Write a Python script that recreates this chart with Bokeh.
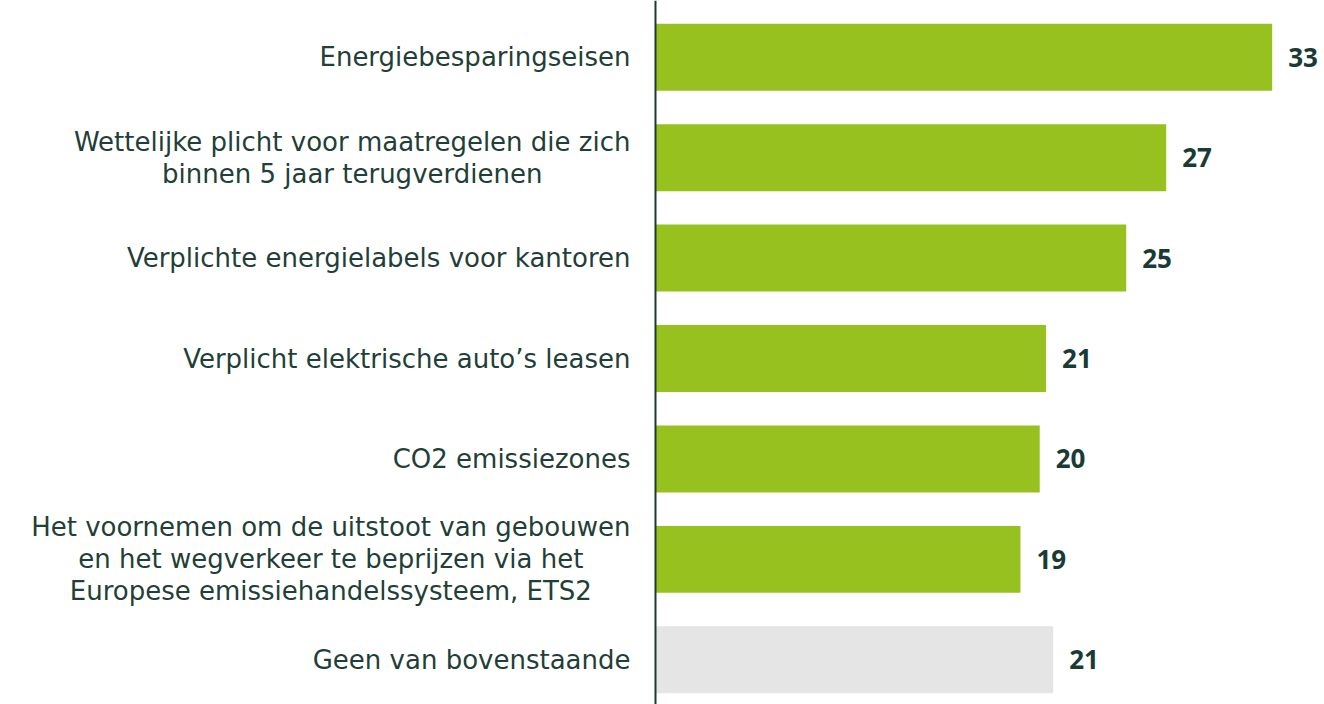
from bokeh.plotting import figure
from bokeh.models import ColumnDataSource, Range1d, Span
from bokeh.embed import file_html
from bokeh.resources import INLINE
from bokeh.core.properties import value

categories = [
    "Energiebesparingseisen",
    "Wettelijke plicht voor maatregelen die zich\nbinnen 5 jaar terugverdienen",
    "Verplichte energielabels voor kantoren",
    "Verplicht elektrische auto\u2019s leasen",
    "CO2 emissiezones",
    "Het voornemen om de uitstoot van gebouwen\nen het wegverkeer te beprijzen via het\nEuropese emissiehandelssysteem, ETS2",
    "Geen van bovenstaande",
]
values = [33.0, 27.33, 25.19, 20.9, 20.56, 19.53, 21.28]
labels = ["33", "27", "25", "21", "20", "19", "21"]
colors = ["#97C11F"] * 6 + ["#E5E5E5"]

rows = list(range(len(categories)))
src = ColumnDataSource(dict(y=rows, v=values, lab=labels, cat=categories, c=colors, zero=[0] * len(rows)))

p = figure(width=1324, height=704, output_backend="svg", toolbar_location=None,
           x_range=Range1d(-35.05, 35.80), y_range=Range1d(6.445, -0.5646),
           min_border=0)
p.axis.visible = False
p.grid.visible = False
p.outline_line_color = None
p.background_fill_color = "white"

p.hbar(y="y", left="zero", right="v", height=0.667, fill_color="c", line_color=None, source=src)
p.add_layout(Span(location=0, dimension="height", line_color="#1B3A33", line_width=2))

p.text(x="zero", y="y", text="cat", source=src, x_offset=-25, text_align="center",
       anchor="center_right", text_baseline="middle", text_font=value("DejaVu Sans"),
       text_font_size="26px", text_color="#1F3F38", text_line_height=1.07)
p.text(x="v", y="y", text="lab", source=src, x_offset=16, text_align="left",
       text_baseline="middle", text_font=value("Open Sans"), text_font_style="bold",
       text_font_size="26px", text_color="#1A3B35")

open("out.html", "w").write(file_html(p, INLINE))
